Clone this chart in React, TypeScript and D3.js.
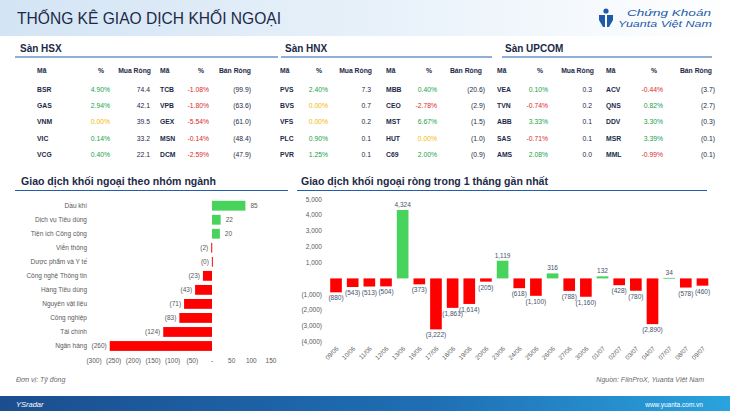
import React from 'react';
import * as d3 from 'd3';

// bảng top mua / bán ròng
const hsxBuyCodes = ['BSR', 'GAS', 'VNM', 'VIC', 'VCG'];
const hsxBuyPct = [4.9, 2.94, 0.0, 0.14, 0.4];
const hsxBuyVal = [74.4, 42.1, 39.5, 33.2, 22.1];
const hsxSellCodes = ['TCB', 'VPB', 'GEX', 'MSN', 'DCM'];
const hsxSellPct = [-1.08, -1.8, -5.54, -0.14, -2.59];
const hsxSellVal = [-99.9, -63.6, -61.0, -48.4, -47.9];

const hnxBuyCodes = ['PVS', 'BVS', 'VFS', 'PLC', 'PVR'];
const hnxBuyPct = [2.4, 0.0, 0.0, 0.9, 1.25];
const hnxBuyVal = [7.3, 0.7, 0.2, 0.1, 0.1];
const hnxSellCodes = ['MBB', 'CEO', 'MST', 'HUT', 'C69'];
const hnxSellPct = [0.4, -2.78, 6.67, 0.0, 2.0];
const hnxSellVal = [-20.6, -2.9, -1.5, -1.0, -0.9];

const upcomBuyCodes = ['VEA', 'TVN', 'ABB', 'SAS', 'AMS'];
const upcomBuyPct = [0.1, -0.74, 3.33, -0.71, 2.08];
const upcomBuyVal = [0.3, 0.2, 0.1, 0.1, 0.0];
const upcomSellCodes = ['ACV', 'QNS', 'DDV', 'MSR', 'MML'];
const upcomSellPct = [-0.44, 0.82, 3.3, 3.39, -0.99];
const upcomSellVal = [-3.7, -2.7, -0.3, -0.1, -0.1];

// theo nhóm ngành
const sectorNames = [
  'Dầu khí',
  'Dịch vụ Tiêu dùng',
  'Tiện ích Công cộng',
  'Viễn thông',
  'Dược phẩm và Y tế',
  'Công nghệ Thông tin',
  'Hàng Tiêu dùng',
  'Nguyên vật liệu',
  'Công nghiệp',
  'Tài chính',
  'Ngân hàng',
];
const sectorValues = [85, 22, 20, -2, -0.4, -23, -43, -71, -83, -124, -260];
const sectorTicks = [-300, -250, -200, -150, -100, -50, 0, 50, 100, 150];

// ròng theo ngày
const dayLabels = [
  '09/06', '10/06', '11/06', '12/06', '13/06', '16/06', '17/06', '18/06', '19/06', '20/06',
  '23/06', '24/06', '25/06', '26/06', '27/06', '30/06', '01/07', '02/07', '03/07', '04/07',
  '07/07', '08/07', '09/07',
];
const dayValues = [
  -880, -543, -513, -504, 4324, -373, -3222, -1861, -1614, -205,
  1119, -618, -1100, 316, -788, -1160, 132, -428, -780, -2890,
  34, -578, -460,
];
const dayTicks = [-4000, -3000, -2000, -1000, 0, 1000, 2000, 3000, 4000, 5000];

const FONT = '"Liberation Sans", Arial, sans-serif';
const GREEN = '#47d35c';
const RED = '#ff0000';
const NAVY = '#1c2a48';
const GRAY = '#595959';
const LINE = '#1f5fae';

const fmtNum = d3.format(',.0f');
const fmtParen = (v: number) => (v < 0 ? `(${fmtNum(Math.abs(v))})` : fmtNum(v));
const fmtPct = (v: number) => `${v.toFixed(2)}%`;
const fmtOne = (v: number) => (v < 0 ? `(${Math.abs(v).toFixed(1)})` : v.toFixed(1));
const pctColor = (v: number) => (v > 0 ? '#17a24a' : v < 0 ? '#d92b2b' : '#f5b800');

function Table({ x0, cols, heads, buyCodes, buyPct, buyVal, sellCodes, sellPct, sellVal }) {
  const rowY = d3.range(5).map((i) => 91.5 + i * 16.4);
  return (
    <g fontFamily={FONT} fontSize={6.8}>
      <text x={x0 + cols[0]} y={73} fill={NAVY} fontWeight="bold">Mã</text>
      <text x={x0 + heads[0]} y={73} fill={NAVY} fontWeight="bold" textAnchor="end">%</text>
      <text x={x0 + heads[1]} y={73} fill={NAVY} fontWeight="bold" textAnchor="end">Mua Ròng</text>
      <text x={x0 + cols[3]} y={73} fill={NAVY} fontWeight="bold">Mã</text>
      <text x={x0 + heads[2]} y={73} fill={NAVY} fontWeight="bold" textAnchor="end">%</text>
      <text x={x0 + heads[3]} y={73} fill={NAVY} fontWeight="bold" textAnchor="end">Bán Ròng</text>
      {rowY.map((y, i) => (
        <g key={i}>
          <text x={x0 + cols[0]} y={y} fill={NAVY} fontWeight="bold">{buyCodes[i]}</text>
          <text x={x0 + cols[1]} y={y} fill={pctColor(buyPct[i])} textAnchor="end">{fmtPct(buyPct[i])}</text>
          <text x={x0 + cols[2]} y={y} fill={NAVY} textAnchor="end">{fmtOne(buyVal[i])}</text>
          <text x={x0 + cols[3]} y={y} fill={NAVY} fontWeight="bold">{sellCodes[i]}</text>
          <text x={x0 + cols[4]} y={y} fill={pctColor(sellPct[i])} textAnchor="end">{fmtPct(sellPct[i])}</text>
          <text x={x0 + cols[5]} y={y} fill={NAVY} textAnchor="end">{fmtOne(sellVal[i])}</text>
        </g>
      ))}
    </g>
  );
}

function SectorChart() {
  const x = d3.scaleLinear().domain([-300, 150]).range([94, 271]);
  const y = d3.scaleBand().domain(sectorNames).range([198.7, 353]).paddingInner(0.3).paddingOuter(0.15);
  return (
    <g fontFamily={FONT}>
      {sectorNames.map((n, i) => {
        const v = sectorValues[i];
        const yy = y(n) as number;
        const cy = yy + y.bandwidth() / 2;
        const x0 = x(Math.min(0, v));
        const w = Math.max(1, Math.abs(x(v) - x(0)));
        return (
          <g key={n}>
            <rect x={x0} y={yy} width={w} height={y.bandwidth()} fill={v >= 0 ? GREEN : RED} />
            <text x={87} y={cy + 2.3} fontSize={6.5} fill={GRAY} textAnchor="end">{n}</text>
            <text
              x={v >= 0 ? x(v) + 5 : x(v) - 3}
              y={cy + 2.3}
              fontSize={6.5}
              fill={GRAY}
              textAnchor={v >= 0 ? 'start' : 'end'}
            >
              {v < 0 ? `(${Math.round(Math.abs(v))})` : Math.round(v)}
            </text>
          </g>
        );
      })}
      {sectorTicks.map((t) => (
        <text key={t} x={x(t)} y={363} fontSize={6.5} fill={GRAY} textAnchor="middle">
          {t === 0 ? '-' : fmtParen(t)}
        </text>
      ))}
    </g>
  );
}

function DailyChart() {
  const x = d3.scaleBand().domain(dayLabels).range([327.7, 710.8]).paddingInner(0.3).paddingOuter(0.15);
  const y = d3.scaleLinear().domain([-4000, 5000]).range([341.7, 199.3]);
  return (
    <g fontFamily={FONT}>
      {dayTicks.map((t) => (
        <text key={t} x={322} y={y(t) + 2.3} fontSize={6.5} fill={GRAY} textAnchor="end">
          {t === 0 ? '' : fmtParen(t)}
        </text>
      ))}
      {dayLabels.map((d, i) => {
        const v = dayValues[i];
        const xx = x(d) as number;
        const cx = xx + x.bandwidth() / 2;
        const top = y(Math.max(0, v));
        const h = Math.abs(y(v) - y(0));
        return (
          <g key={d}>
            <rect x={xx} y={top} width={x.bandwidth()} height={Math.max(h, 0.8)} fill={v >= 0 ? GREEN : RED} />
            <text
              x={cx}
              y={v >= 0 ? y(v) - 3 : y(v) + 8}
              fontSize={6.5}
              fill="#44546a"
              textAnchor="middle"
            >
              {fmtParen(v)}
            </text>
            <text
              transform={`translate(${cx + 3},${349}) rotate(-45)`}
              fontSize={6.3}
              fill={GRAY}
              textAnchor="end"
            >
              {d}
            </text>
          </g>
        );
      })}
    </g>
  );
}

export default function App() {
  return (
    <svg
      width={730}
      height={411}
      style={{ position: 'absolute', left: 0, top: 0, background: '#fff' }}
      fontFamily={FONT}
    >
      <defs>
        <linearGradient id="hdr" x1="0" x2="1" y1="0" y2="0">
          <stop offset="0" stopColor="#d3e4f4" />
          <stop offset="0.55" stopColor="#e9f2fa" />
          <stop offset="1" stopColor="#ffffff" />
        </linearGradient>
        <linearGradient id="ftr" x1="0" x2="1" y1="0" y2="0">
          <stop offset="0" stopColor="#1b4e8e" />
          <stop offset="0.6" stopColor="#1f6fb5" />
          <stop offset="1" stopColor="#2aa3de" />
        </linearGradient>
      </defs>

      {/* header */}
      <rect x={0} y={0} width={730} height={36} fill="url(#hdr)" />
      <text
        x={17}
        y={24}
        fontSize={16}
        fill={NAVY}
        fontFamily={'"Liberation Sans Narrow", "Liberation Sans", Arial, sans-serif'}
        textLength={264}
        lengthAdjust="spacingAndGlyphs"
      >
        THỐNG KÊ GIAO DỊCH KHỐI NGOẠI
      </text>
      {/* logo */}
      <g fill="#1e5aa8">
        <circle cx={606} cy={11} r={2.6} />
        <path d="M599,15 L605,15 L605,27 L603,27 L599,20 Z" />
        <path d="M613,15 L607,15 L607,27 L609,27 L613,20 Z" />
        <text x={627} y={16} fontSize={9} fontStyle="italic" textLength={84} lengthAdjust="spacingAndGlyphs">
          Chứng Khoán
        </text>
        <text x={618} y={27} fontSize={9} fontStyle="italic" textLength={94} lengthAdjust="spacingAndGlyphs">
          Yuanta Việt Nam
        </text>
      </g>

      {/* section titles */}
      <g fontWeight="bold" fontSize={10} fill={NAVY}>
        <text x={20} y={52}>Sàn HSX</text>
        <text x={285} y={52}>Sàn HNX</text>
        <text x={505} y={52}>Sàn UPCOM</text>
      </g>
      <g stroke={LINE} strokeWidth={1}>
        <line x1={15} x2={278} y1={57} y2={57} />
        <line x1={281} x2={492} y1={57} y2={57} />
        <line x1={502} x2={712} y1={57} y2={57} />
        <line x1={15} x2={288} y1={190.5} y2={190.5} />
        <line x1={297} x2={707} y1={190.5} y2={190.5} />
      </g>

      <Table
        x0={0}
        cols={[37, 110, 150, 160, 209, 251]}
        heads={[104, 151, 204, 251]}
        buyCodes={hsxBuyCodes}
        buyPct={hsxBuyPct}
        buyVal={hsxBuyVal}
        sellCodes={hsxSellCodes}
        sellPct={hsxSellPct}
        sellVal={hsxSellVal}
      />
      <Table
        x0={275}
        cols={[5, 53, 96, 111, 162, 210]}
        heads={[47, 97, 157, 207]}
        buyCodes={hnxBuyCodes}
        buyPct={hnxBuyPct}
        buyVal={hnxBuyVal}
        sellCodes={hnxSellCodes}
        sellPct={hnxSellPct}
        sellVal={hnxSellVal}
      />
      <Table
        x0={495}
        cols={[2, 53, 97, 111, 168, 220]}
        heads={[48, 99, 162, 217]}
        buyCodes={upcomBuyCodes}
        buyPct={upcomBuyPct}
        buyVal={upcomBuyVal}
        sellCodes={upcomSellCodes}
        sellPct={upcomSellPct}
        sellVal={upcomSellVal}
      />

      <g fontSize={10.5} fill={NAVY} fontWeight="bold">
        <text x={21} y={185} textLength={195} lengthAdjust="spacingAndGlyphs">
          Giao dịch khối ngoại theo nhóm ngành
        </text>
        <text x={301} y={185} textLength={247} lengthAdjust="spacingAndGlyphs">
          Giao dịch khối ngoại ròng trong 1 tháng gần nhất
        </text>
      </g>

      <SectorChart />
      <DailyChart />

      {/* footer */}
      <g fontSize={7} fontStyle="italic" fill="#6b6b6b">
        <text x={16} y={382}>Đơn vị: Tỷ đồng</text>
        <text x={704} y={382} textAnchor="end">Nguồn: FiinProX, Yuanta Việt Nam</text>
      </g>
      <rect x={0} y={396} width={730} height={15} fill="url(#ftr)" />
      <text x={16} y={407} fontSize={7.5} fontStyle="italic" fill="#fff">YSradar</text>
      <text x={703} y={407} fontSize={6.5} fill="#fff" textAnchor="end">www.yuanta.com.vn</text>
    </svg>
  );
}
